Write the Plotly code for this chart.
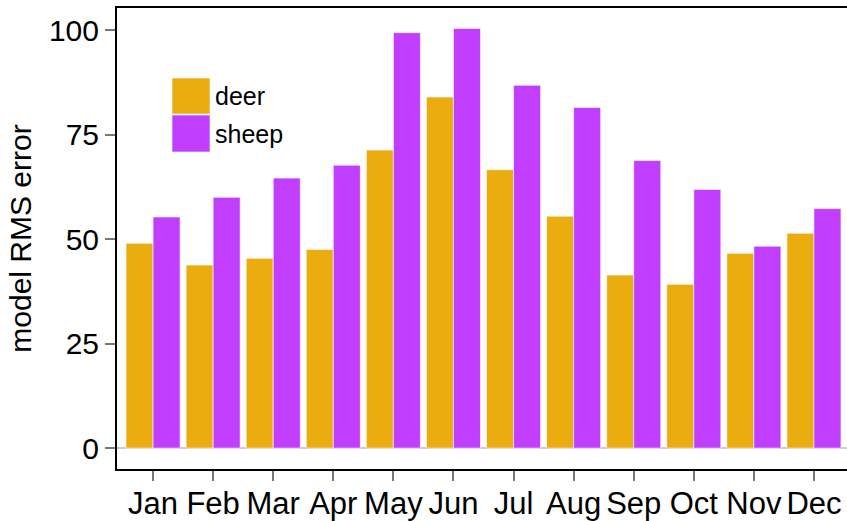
import plotly.graph_objects as go

months = ["Jan", "Feb", "Mar", "Apr", "May", "Jun", "Jul", "Aug", "Sep", "Oct", "Nov", "Dec"]
deer = [49.0, 43.8, 45.4, 47.5, 71.3, 84.0, 66.6, 55.5, 41.4, 39.2, 46.6, 51.4]
sheep = [55.3, 60.0, 64.6, 67.7, 99.4, 100.4, 86.8, 81.5, 68.8, 61.9, 48.3, 57.3]
series_names = ["deer", "sheep"]
colors = ["#EBAC10", "#C13EFF"]

W, H = 847, 521
L, R, T, B = 117, 0, 8, 52
pw, ph = W - L - R, H - T - B
FONT = "Liberation Sans, Arial"

fig = go.Figure()
for name, vals, c in zip(series_names, [deer, sheep], colors):
    fig.add_trace(go.Bar(x=list(range(len(months))), y=vals, name=name,
                         marker=dict(color=c, line=dict(color="rgba(255,255,255,0.6)", width=1)),
                         showlegend=False))

def px2paper(x, y):
    return (x - L) / pw, (H - B - y) / ph

# legend drawn as swatches + labels
for i, (name, c) in enumerate(zip(series_names, colors)):
    y0p, y1p = 78 + i * 37, 114 + i * 38
    x0, y0 = px2paper(172, y1p)
    x1, y1 = px2paper(210, y0p)
    fig.add_shape(type="rect", xref="paper", yref="paper", x0=x0, y0=y0, x1=x1, y1=y1,
                  fillcolor=c, line=dict(color="rgba(255,255,255,0.6)", width=1))
    tx, ty = px2paper(213, (y0p + y1p) / 2)
    fig.add_annotation(xref="paper", yref="paper", x=tx, y=ty, text=name, showarrow=False,
                       xanchor="left", yanchor="middle",
                       font=dict(size=25, color="black", family=FONT))

fig.update_layout(
    width=W, height=H,
    margin=dict(l=L, r=R, t=T, b=B),
    plot_bgcolor="white", paper_bgcolor="white",
    barmode="group", bargap=0.1, bargroupgap=0,
    font=dict(family=FONT, color="black"),
)
fig.update_xaxes(
    range=[-0.6, 11.55], tickmode="array", tickvals=list(range(len(months))), ticktext=months,
    showline=True, linecolor="black", linewidth=2, mirror=True,
    ticks="outside", ticklen=10, tickwidth=2, tickcolor="#777777",
    tickfont=dict(size=31), showgrid=False, zeroline=False, automargin=False,
    ticklabelstandoff=-4,
)
fig.update_yaxes(
    range=[-5, 105.3], tickvals=[0, 25, 50, 75, 100],
    showline=True, linecolor="black", linewidth=2,
    ticks="outside", ticklen=10, tickwidth=2, tickcolor="#777777",
    tickfont=dict(size=30), showgrid=False, automargin=False,
    zeroline=True, zerolinecolor="#cccccc", zerolinewidth=2,
    title=dict(text="model RMS error", font=dict(size=30), standoff=8),
)
fig.write_html("out.html", config={"displayModeBar": False},
               post_script="document.body.style.margin='0';document.body.style.padding='0';")
